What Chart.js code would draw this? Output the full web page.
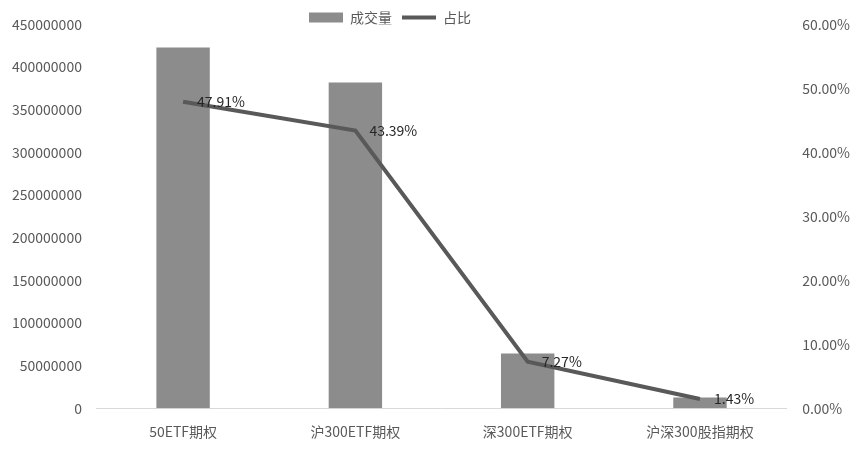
<!DOCTYPE html>
<html><head><meta charset="utf-8">
<script src="https://cdn.jsdelivr.net/npm/chart.js@4.4.1/dist/chart.umd.min.js"></script>
<style>html,body{margin:0;padding:0;background:#fff;}#wrap{width:861px;height:451px;}</style>
</head><body><div id="wrap"><canvas id="c" width="861" height="451"></canvas></div>
<script>
const categories = ['50ETF期权', '沪300ETF期权', '深300ETF期权', '沪深300股指期权'];
const volumes = [423000000, 382000000, 64000000, 12600000];
const shares = [0.4791, 0.4339, 0.0727, 0.0143];
const shareLabels = ['47.91%', '43.39%', '7.27%', '1.43%'];
const seriesNames = ['成交量', '占比'];

const FONT = '"Noto Sans CJK SC", "Noto Sans", sans-serif';

const labelPlugin = {
  id: 'lineLabels',
  afterLayout(chart) {
    // shift the legend block slightly left, as in the reference
    if (chart.legend) { chart.legend.left = 0; chart.legend.right = 780; }
  },
  afterDatasetsDraw(chart) {
    const meta = chart.getDatasetMeta(1);
    const ctx = chart.ctx;
    ctx.save();
    ctx.font = '14px ' + FONT;
    ctx.fillStyle = '#262626';
    ctx.textAlign = 'left';
    ctx.textBaseline = 'middle';
    meta.data.forEach((pt, i) => {
      ctx.fillText(shareLabels[i], pt.x + 14, pt.y);
    });
    ctx.restore();
  }
};

new Chart(document.getElementById('c'), {
  data: {
    labels: categories,
    datasets: [
      {
        type: 'bar', label: seriesNames[0], data: volumes, yAxisID: 'y',
        backgroundColor: '#8c8c8c', borderWidth: 0,
        barPercentage: 0.62, categoryPercentage: 0.5, order: 1,
        pointStyle: 'rect'
      },
      {
        type: 'line', label: seriesNames[1], data: shares, yAxisID: 'y1',
        borderColor: '#595959', backgroundColor: '#595959', borderWidth: 4,
        pointRadius: 0, tension: 0, order: 0, pointStyle: 'line'
      }
    ]
  },
  options: {
    responsive: false, animation: false,
    layout: { padding: { left: -3, right: -5, top: 0, bottom: -4 } },
    plugins: {
      tooltip: { enabled: false },
      legend: {
        position: 'top',
        maxHeight: 24,
        labels: {
          usePointStyle: true, pointStyleWidth: 34, boxHeight: 10,
          color: '#595959', font: { family: FONT, size: 14 },
          padding: 10,
          sort: (a, b) => a.datasetIndex - b.datasetIndex
        }
      }
    },
    scales: {
      x: {
        grid: { display: false, drawTicks: false },
        border: { display: true, color: '#d9d9d9' },
        ticks: { color: '#595959', font: { family: FONT, size: 14 }, padding: 15 }
      },
      y: {
        position: 'left', min: 0, max: 450000000,
        grid: { display: false, drawTicks: false },
        border: { display: false },
        ticks: { stepSize: 50000000, color: '#595959', font: { family: FONT, size: 14 }, padding: 15,
          callback: v => String(v) }
      },
      y1: {
        position: 'right', min: 0, max: 0.6,
        grid: { display: false, drawTicks: false },
        border: { display: false },
        ticks: { stepSize: 0.1, color: '#595959', font: { family: FONT, size: 14 }, padding: 16,
          callback: v => (v * 100).toFixed(2) + '%' }
      }
    }
  },
  plugins: [labelPlugin]
});
</script></body></html>
